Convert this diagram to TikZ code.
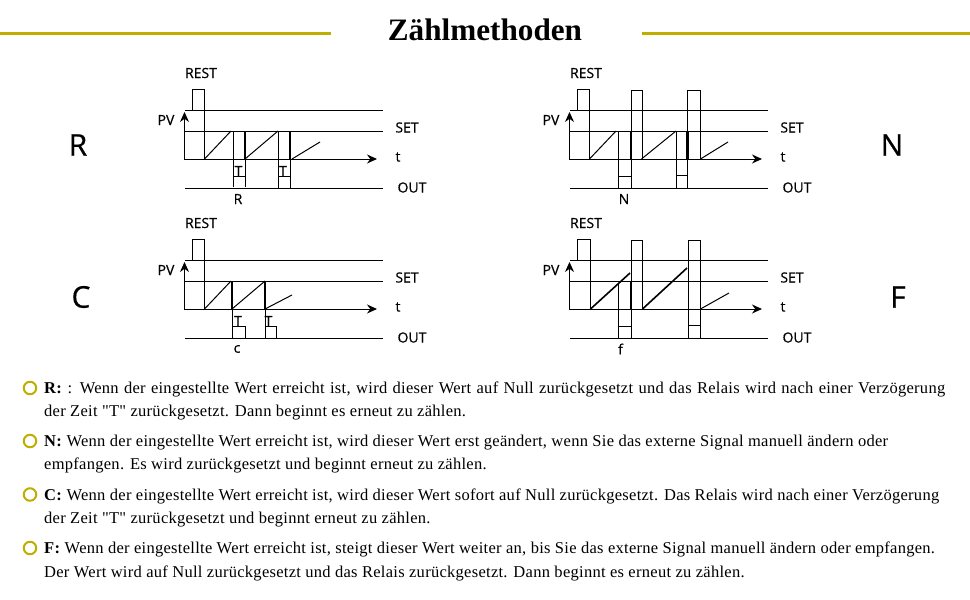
\documentclass[tikz,border=0pt]{standalone}
\usepackage{fontspec}
\setmainfont{Liberation Serif}[Ligatures=TeXOff]
\newfontfamily\parafont{Liberation Serif}[Ligatures=TeXOff,LetterSpace=1.7]
\newfontfamily\labfont[RawFeature={embolden=0.5}]{Open Sans}
\usetikzlibrary{arrows.meta}
\definecolor{gold}{HTML}{BFAE00}
\tikzset{
  sig/.style={line width=1pt,black,line cap=butt},
  bold/.style={line width=2.1pt,black},
  boldramp/.style={line width=1.6pt,black},
  axis/.style={line width=1pt,black,-{Stealth[length=10pt,width=9pt]}},
  rule/.style={line width=3pt,gold},
  lab/.style={inner sep=0,font=\labfont\fontsize{14}{15}\selectfont},
  big/.style={inner sep=0,font=\labfont\fontsize{30}{32}\selectfont},
  para/.style={inner sep=0,anchor=base west,font=\parafont\fontsize{16.5}{18}\selectfont},
  bul/.style={circle,draw=gold,line width=2pt,minimum size=12.5pt,inner sep=0}
}
\begin{document}
\begin{tikzpicture}[x=1pt,y=-1pt]
\useasboundingbox (0,0) rectangle (970,600);
\fill[white] (0,0) rectangle (970,600);
% title
\node[inner sep=0,font=\bfseries\fontsize{31.2}{36}\selectfont] (title) at (485,29.5) {Zählmethoden};
\coordinate (ruleAa) at (0,33); \coordinate (ruleAb) at (331,33);
\coordinate (ruleBa) at (642,33); \coordinate (ruleBb) at (970,33);
\draw[rule] (ruleAa) -- (ruleAb);
\draw[rule] (ruleBa) -- (ruleBb);
% big letters
\node[big] (bigR) at (78,145) {R};
\node[big] (bigN) at (892,145) {N};
\node[big] (bigC) at (81,297) {C};
\node[big] (bigF) at (898,297) {F};

% ---------- R ----------
\draw[sig] (185,110) -- (383,110);
\draw[sig] (185,131) -- (383,131);
\draw[sig] (185,188) -- (383,188);
\draw[axis] (184,159) -- (377,159);
\draw[axis] (184.5,159) -- (184.5,112);
\draw[sig] (192.5,110) -- (192.5,89) -- (204.5,89) -- (204.5,159);
\draw[sig] (204.5,159) -- (231,131);
\draw[sig] (233.5,131) -- (233.5,187);
\draw[sig] (245,159) -- (245,187);
\draw[bold] (245,131) -- (245,159);
\draw[sig] (233.5,176.5) -- (245,176.5);
\draw[sig] (245,159) -- (278,131);
\draw[sig] (278,131) -- (278,188);
\draw[bold] (290,131) -- (290,159);
\draw[sig] (290,159) -- (290,188);
\draw[sig] (278,176.5) -- (290,176.5);
\draw[sig] (292,159) -- (320,142);
\node[lab] (rT1) at (238.5,171) {T};
\node[lab] (rT2) at (283,171) {T};
\node[lab] (rR) at (238,199) {R};
\node[lab] (rRest) at (201,73) {REST};
\node[lab] (rPV) at (166,120) {PV};
\node[lab] (rSet) at (407,127.5) {SET};
\node[lab] (rt) at (398,157) {t};
\node[lab] (rOut) at (412,187.5) {OUT};

% ---------- N ----------
\draw[sig] (570,110) -- (768,110);
\draw[sig] (570,131) -- (768,131);
\draw[sig] (570,188) -- (768,188);
\draw[axis] (569,159) -- (762,159);
\draw[axis] (569.5,159) -- (569.5,112);
\draw[sig] (577.5,110) -- (577.5,89) -- (589.5,89) -- (589.5,159);
\draw[sig] (589.5,159) -- (616,131);
\draw[sig] (618.5,131) -- (618.5,188);
\draw[sig] (631,90) -- (631,188);
\draw[bold] (631,131) -- (631,159);
\draw[sig] (631,90) -- (642,90) -- (642,159);
\draw[sig] (618.5,176.5) -- (631,176.5);
\draw[sig] (641.5,159) -- (676,131);
\draw[sig] (676,131) -- (676,188);
\draw[sig] (687.5,90) -- (687.5,188);
\draw[bold] (687.5,131) -- (687.5,159);
\draw[sig] (687.5,90) -- (700.5,90) -- (700.5,159);
\draw[sig] (676,175.5) -- (687.5,175.5);
\draw[sig] (700.5,159) -- (728,142);
\node[lab] (nN) at (624,199) {N};
\node[lab] (nRest) at (586,73) {REST};
\node[lab] (nPV) at (551,120) {PV};
\node[lab] (nSet) at (792,127.5) {SET};
\node[lab] (nt) at (783,157) {t};
\node[lab] (nOut) at (797,187.5) {OUT};

% ---------- C ----------
\draw[sig] (185,260) -- (383,260);
\draw[sig] (185,281) -- (383,281);
\draw[sig] (185,338) -- (383,338);
\draw[axis] (184,309) -- (377,309);
\draw[axis] (184.5,309) -- (184.5,262);
\draw[sig] (192.5,260) -- (192.5,239) -- (204.5,239) -- (204.5,309);
\draw[sig] (204.5,309) -- (231,281);
\draw[bold] (232,281) -- (232,309);
\draw[sig] (232.5,309) -- (232.5,338);
\draw[sig] (232.5,326.5) -- (245,326.5) -- (245,338);
\draw[sig] (232,309) -- (265,281);
\draw[bold] (265,281) -- (265,309);
\draw[sig] (265,309) -- (265,338);
\draw[sig] (265,326.5) -- (276.5,326.5) -- (276.5,338);
\draw[sig] (265,309) -- (292,295);
\node[lab] (cT1) at (238,321) {T};
\node[lab] (cT2) at (268.5,321) {T};
\node[lab] (cc) at (237,349) {c};
\node[lab] (cRest) at (201,223) {REST};
\node[lab] (cPV) at (166,270) {PV};
\node[lab] (cSet) at (407,277.5) {SET};
\node[lab] (ct) at (398,307) {t};
\node[lab] (cOut) at (412,337.5) {OUT};

% ---------- F ----------
\draw[sig] (570,260) -- (768,260);
\draw[sig] (570,281) -- (768,281);
\draw[sig] (570,338) -- (768,338);
\draw[axis] (569,309) -- (762,309);
\draw[axis] (569.5,309) -- (569.5,262);
\draw[sig] (577.5,260) -- (577.5,239) -- (590.5,239) -- (590.5,309);
\draw[boldramp] (590.5,309) -- (630,273);
\draw[sig] (618.5,283) -- (618.5,338);
\draw[sig] (631,240) -- (631,338);
\draw[bold] (631,281) -- (631,309);
\draw[sig] (631,240) -- (642.5,240) -- (642.5,309);
\draw[sig] (618.5,326.5) -- (631,326.5);
\draw[boldramp] (642.5,309) -- (687,268);
\draw[sig] (688.5,240) -- (688.5,338);
\draw[sig] (688.5,240) -- (700.5,240) -- (700.5,338);
\draw[sig] (688.5,325.5) -- (700.5,325.5);
\draw[sig] (700.5,309) -- (729,293);
\node[lab] (ff) at (620.5,349) {f};
\node[lab] (fRest) at (586,223) {REST};
\node[lab] (fPV) at (551,270) {PV};
\node[lab] (fSet) at (792,277.5) {SET};
\node[lab] (ft) at (783,307) {t};
\node[lab] (fOut) at (797,337.5) {OUT};

% ---------- text ----------
\node[bul] (b1) at (30,388) {};
\node[bul] (b2) at (30,441) {};
\node[bul] (b3) at (30,494.5) {};
\node[bul] (b4) at (30,548) {};
\node[para] (t1a) at (44,393.5) {\makebox[901pt][s]{\textbf{R:} : Wenn der eingestellte Wert erreicht ist, wird dieser Wert auf Null zurückgesetzt und das Relais wird nach einer Verzögerung}};
\node[para] (t1b) at (44,416.5) {der Zeit "T" zurückgesetzt. Dann beginnt es erneut zu zählen.};
\node[para] (t2a) at (44,446) {\textbf{N:} Wenn der eingestellte Wert erreicht ist, wird dieser Wert erst geändert, wenn Sie das externe Signal manuell ändern oder};
\node[para] (t2b) at (44,469.5) {empfangen. Es wird zurückgesetzt und beginnt erneut zu zählen.};
\node[para] (t3a) at (44,500) {\textbf{C:} Wenn der eingestellte Wert erreicht ist, wird dieser Wert sofort auf Null zurückgesetzt. Das Relais wird nach einer Verzögerung};
\node[para] (t3b) at (44,523) {der Zeit "T" zurückgesetzt und beginnt erneut zu zählen.};
\node[para] (t4a) at (44,553.5) {\textbf{F:} Wenn der eingestellte Wert erreicht ist, steigt dieser Wert weiter an, bis Sie das externe Signal manuell ändern oder empfangen.};
\node[para] (t4b) at (44,577.5) {Der Wert wird auf Null zurückgesetzt und das Relais zurückgesetzt. Dann beginnt es erneut zu zählen.};
\end{tikzpicture}
\end{document}
